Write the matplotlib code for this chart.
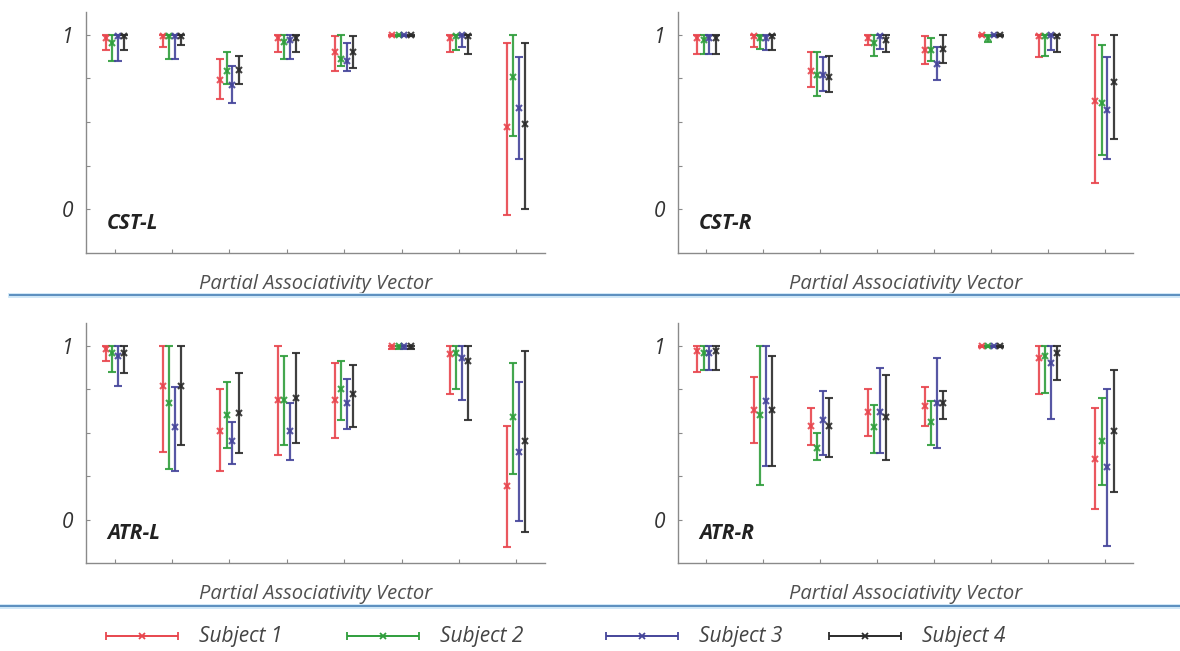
import numpy as np
import matplotlib
matplotlib.use('Agg')
from matplotlib import pyplot as plt
from matplotlib.lines import Line2D

plt.rcParams['font.family'] = ['Open Sans', 'DejaVu Sans']

groups = [1, 2, 3, 4, 5, 6, 7, 8]
subjects = ['Subject 1', 'Subject 2', 'Subject 3', 'Subject 4']
colors = ['#e8464e', '#2f9e3c', '#45459a', '#2b2b2b']
panels = ['CST-L', 'CST-R', 'ATR-L', 'ATR-R']

# mean, lower end, upper end of each bar: one row per subject, one column per vector element
cst_l_mean = [[0.98, 0.99, 0.74, 0.98, 0.90, 1.00, 0.98, 0.47],
              [0.95, 0.99, 0.79, 0.96, 0.86, 1.00, 0.99, 0.76],
              [0.99, 0.99, 0.71, 0.97, 0.85, 1.00, 1.00, 0.58],
              [0.99, 0.99, 0.80, 0.98, 0.90, 1.00, 0.99, 0.49]]
cst_l_low = [[0.91, 0.93, 0.63, 0.90, 0.79, 0.99, 0.90, -0.03],
             [0.85, 0.86, 0.72, 0.86, 0.82, 0.99, 0.91, 0.42],
             [0.85, 0.86, 0.61, 0.86, 0.79, 0.99, 0.93, 0.29],
             [0.91, 0.94, 0.72, 0.90, 0.81, 0.99, 0.89, 0.00]]
cst_l_high = [[1.00, 1.00, 0.86, 1.00, 0.99, 1.00, 1.00, 0.95],
              [1.00, 1.00, 0.90, 1.00, 1.00, 1.00, 1.00, 1.00],
              [1.00, 1.00, 0.82, 1.00, 0.95, 1.00, 1.00, 0.87],
              [1.00, 1.00, 0.88, 1.00, 0.99, 1.00, 1.00, 0.95]]

cst_r_mean = [[0.98, 0.99, 0.79, 0.98, 0.91, 1.00, 0.99, 0.62],
              [0.97, 0.98, 0.77, 0.95, 0.91, 0.98, 0.99, 0.61],
              [0.98, 0.98, 0.77, 0.99, 0.83, 1.00, 1.00, 0.57],
              [0.98, 0.99, 0.76, 0.97, 0.92, 1.00, 0.99, 0.73]]
cst_r_low = [[0.89, 0.93, 0.70, 0.94, 0.83, 0.99, 0.87, 0.15],
             [0.89, 0.92, 0.65, 0.88, 0.85, 0.96, 0.88, 0.31],
             [0.89, 0.91, 0.68, 0.92, 0.74, 0.99, 0.91, 0.29],
             [0.89, 0.91, 0.67, 0.90, 0.84, 0.99, 0.90, 0.40]]
cst_r_high = [[1.00, 1.00, 0.90, 1.00, 0.99, 1.00, 1.00, 1.00],
              [1.00, 1.00, 0.90, 1.00, 0.98, 1.00, 1.00, 0.94],
              [1.00, 1.00, 0.87, 1.00, 0.93, 1.00, 1.00, 0.87],
              [1.00, 1.00, 0.88, 1.00, 1.00, 1.00, 1.00, 1.00]]

atr_l_mean = [[0.98, 0.77, 0.51, 0.69, 0.69, 1.00, 0.95, 0.19],
              [0.96, 0.67, 0.60, 0.69, 0.75, 1.00, 0.96, 0.59],
              [0.94, 0.53, 0.45, 0.51, 0.67, 1.00, 0.93, 0.39],
              [0.96, 0.77, 0.61, 0.70, 0.72, 1.00, 0.91, 0.45]]
atr_l_low = [[0.91, 0.39, 0.28, 0.37, 0.47, 0.98, 0.72, -0.16],
             [0.85, 0.29, 0.41, 0.43, 0.57, 0.98, 0.75, 0.26],
             [0.77, 0.28, 0.32, 0.34, 0.52, 0.98, 0.69, -0.01],
             [0.84, 0.43, 0.38, 0.44, 0.53, 0.98, 0.57, -0.07]]
atr_l_high = [[1.00, 1.00, 0.75, 1.00, 0.90, 1.00, 1.00, 0.54],
              [1.00, 1.00, 0.79, 0.94, 0.91, 1.00, 1.00, 0.90],
              [1.00, 0.76, 0.56, 0.67, 0.81, 1.00, 1.00, 0.79],
              [1.00, 1.00, 0.84, 0.96, 0.89, 1.00, 1.00, 0.97]]

atr_r_mean = [[0.97, 0.63, 0.54, 0.62, 0.65, 1.00, 0.93, 0.35],
              [0.96, 0.60, 0.41, 0.53, 0.56, 1.00, 0.94, 0.45],
              [0.96, 0.68, 0.57, 0.62, 0.67, 1.00, 0.90, 0.30],
              [0.97, 0.63, 0.54, 0.59, 0.67, 1.00, 0.96, 0.51]]
atr_r_low = [[0.85, 0.44, 0.43, 0.48, 0.54, 0.99, 0.72, 0.06],
             [0.86, 0.20, 0.34, 0.38, 0.43, 0.99, 0.73, 0.20],
             [0.86, 0.31, 0.37, 0.38, 0.41, 0.99, 0.58, -0.15],
             [0.86, 0.31, 0.36, 0.34, 0.58, 0.99, 0.80, 0.16]]
atr_r_high = [[1.00, 0.82, 0.64, 0.75, 0.76, 1.00, 1.00, 0.64],
              [1.00, 1.00, 0.50, 0.66, 0.68, 1.00, 1.00, 0.70],
              [1.00, 1.00, 0.74, 0.87, 0.93, 1.00, 1.00, 0.75],
              [1.00, 0.94, 0.70, 0.83, 0.74, 1.00, 1.00, 0.86]]

data = {
    'CST-L': (cst_l_mean, cst_l_low, cst_l_high),
    'CST-R': (cst_r_mean, cst_r_low, cst_r_high),
    'ATR-L': (atr_l_mean, atr_l_low, atr_l_high),
    'ATR-R': (atr_r_mean, atr_r_low, atr_r_high),
}

offsets = [-0.16, -0.05, 0.05, 0.16]
W, H = 1180, 651

fig = plt.figure(figsize=(11.8, 6.51), dpi=100, facecolor='white')

# axes rectangles in pixels (left, top, right, bottom)
rects = {'CST-L': (86, 12, 545, 253), 'CST-R': (678, 12, 1133, 253),
         'ATR-L': (86, 323, 545, 563), 'ATR-R': (678, 323, 1133, 563)}

for name in panels:
    l, t, r, b = rects[name]
    ax = fig.add_axes([l / W, 1 - b / H, (r - l) / W, (b - t) / H])
    ax.set_facecolor('none')
    mean, low, high = [np.array(a) for a in data[name]]
    x = np.array(groups, dtype=float)
    for i in range(len(subjects)):
        yerr = [mean[i] - low[i], high[i] - mean[i]]
        ax.errorbar(x + offsets[i], mean[i], yerr=yerr, fmt='x', color=colors[i],
                    ecolor=colors[i], elinewidth=1.6, capsize=3, capthick=1.5,
                    markersize=4, markeredgewidth=1.5, alpha=0.9)
    ax.set_xlim(0.5, 8.5)
    ax.set_ylim(-0.25, 1.13)
    for s in ['top', 'right']:
        ax.spines[s].set_visible(False)
    for s in ['left', 'bottom']:
        ax.spines[s].set_color('#8a8a8a')
        ax.spines[s].set_linewidth(1.0)
    ax.set_xticks(groups)
    ax.set_xticklabels([])
    ax.set_yticks([0, 0.25, 0.5, 0.75, 1])
    ax.set_yticklabels(['0', '', '', '', '1'], fontsize=15, style='italic', color='#333333')
    ax.tick_params(axis='both', direction='in', length=3, color='#8a8a8a', pad=9)
    ax.set_xlabel('Partial Associativity Vector', fontsize=14.5, style='italic',
                  color='#505050', labelpad=6)
    ax.text(0.87, -0.08, name, fontsize=15, fontweight='bold', style='italic',
            color='#222222', va='center', ha='left')

# blue separator lines
for yy, x0 in [(295, 10), (606, 0)]:
    fig.add_artist(Line2D([x0 / W, 1], [1 - yy / H, 1 - yy / H], color='#cfe7f7', lw=3.5))
    fig.add_artist(Line2D([x0 / W, 1], [1 - yy / H, 1 - yy / H], color='#5b8fbf', lw=1.4))

# legend drawn in its own strip
lax = fig.add_axes([0, 0, 1, 0.05])
lax.set_xlim(0, W)
lax.set_ylim(-1, 1)
lax.axis('off')
leg_x = [142, 383, 642, 865]
for i in range(len(subjects)):
    lax.errorbar(leg_x[i], -0.1, xerr=36, fmt='x', color=colors[i], elinewidth=1.4,
                 capsize=3, capthick=1.3, markersize=4, markeredgewidth=1.3)
    lax.text(leg_x[i] + 57, -0.1, subjects[i], fontsize=15, style='italic',
             color='#444444', va='center', ha='left')

fig.savefig('out.png', dpi=100, facecolor='white')
